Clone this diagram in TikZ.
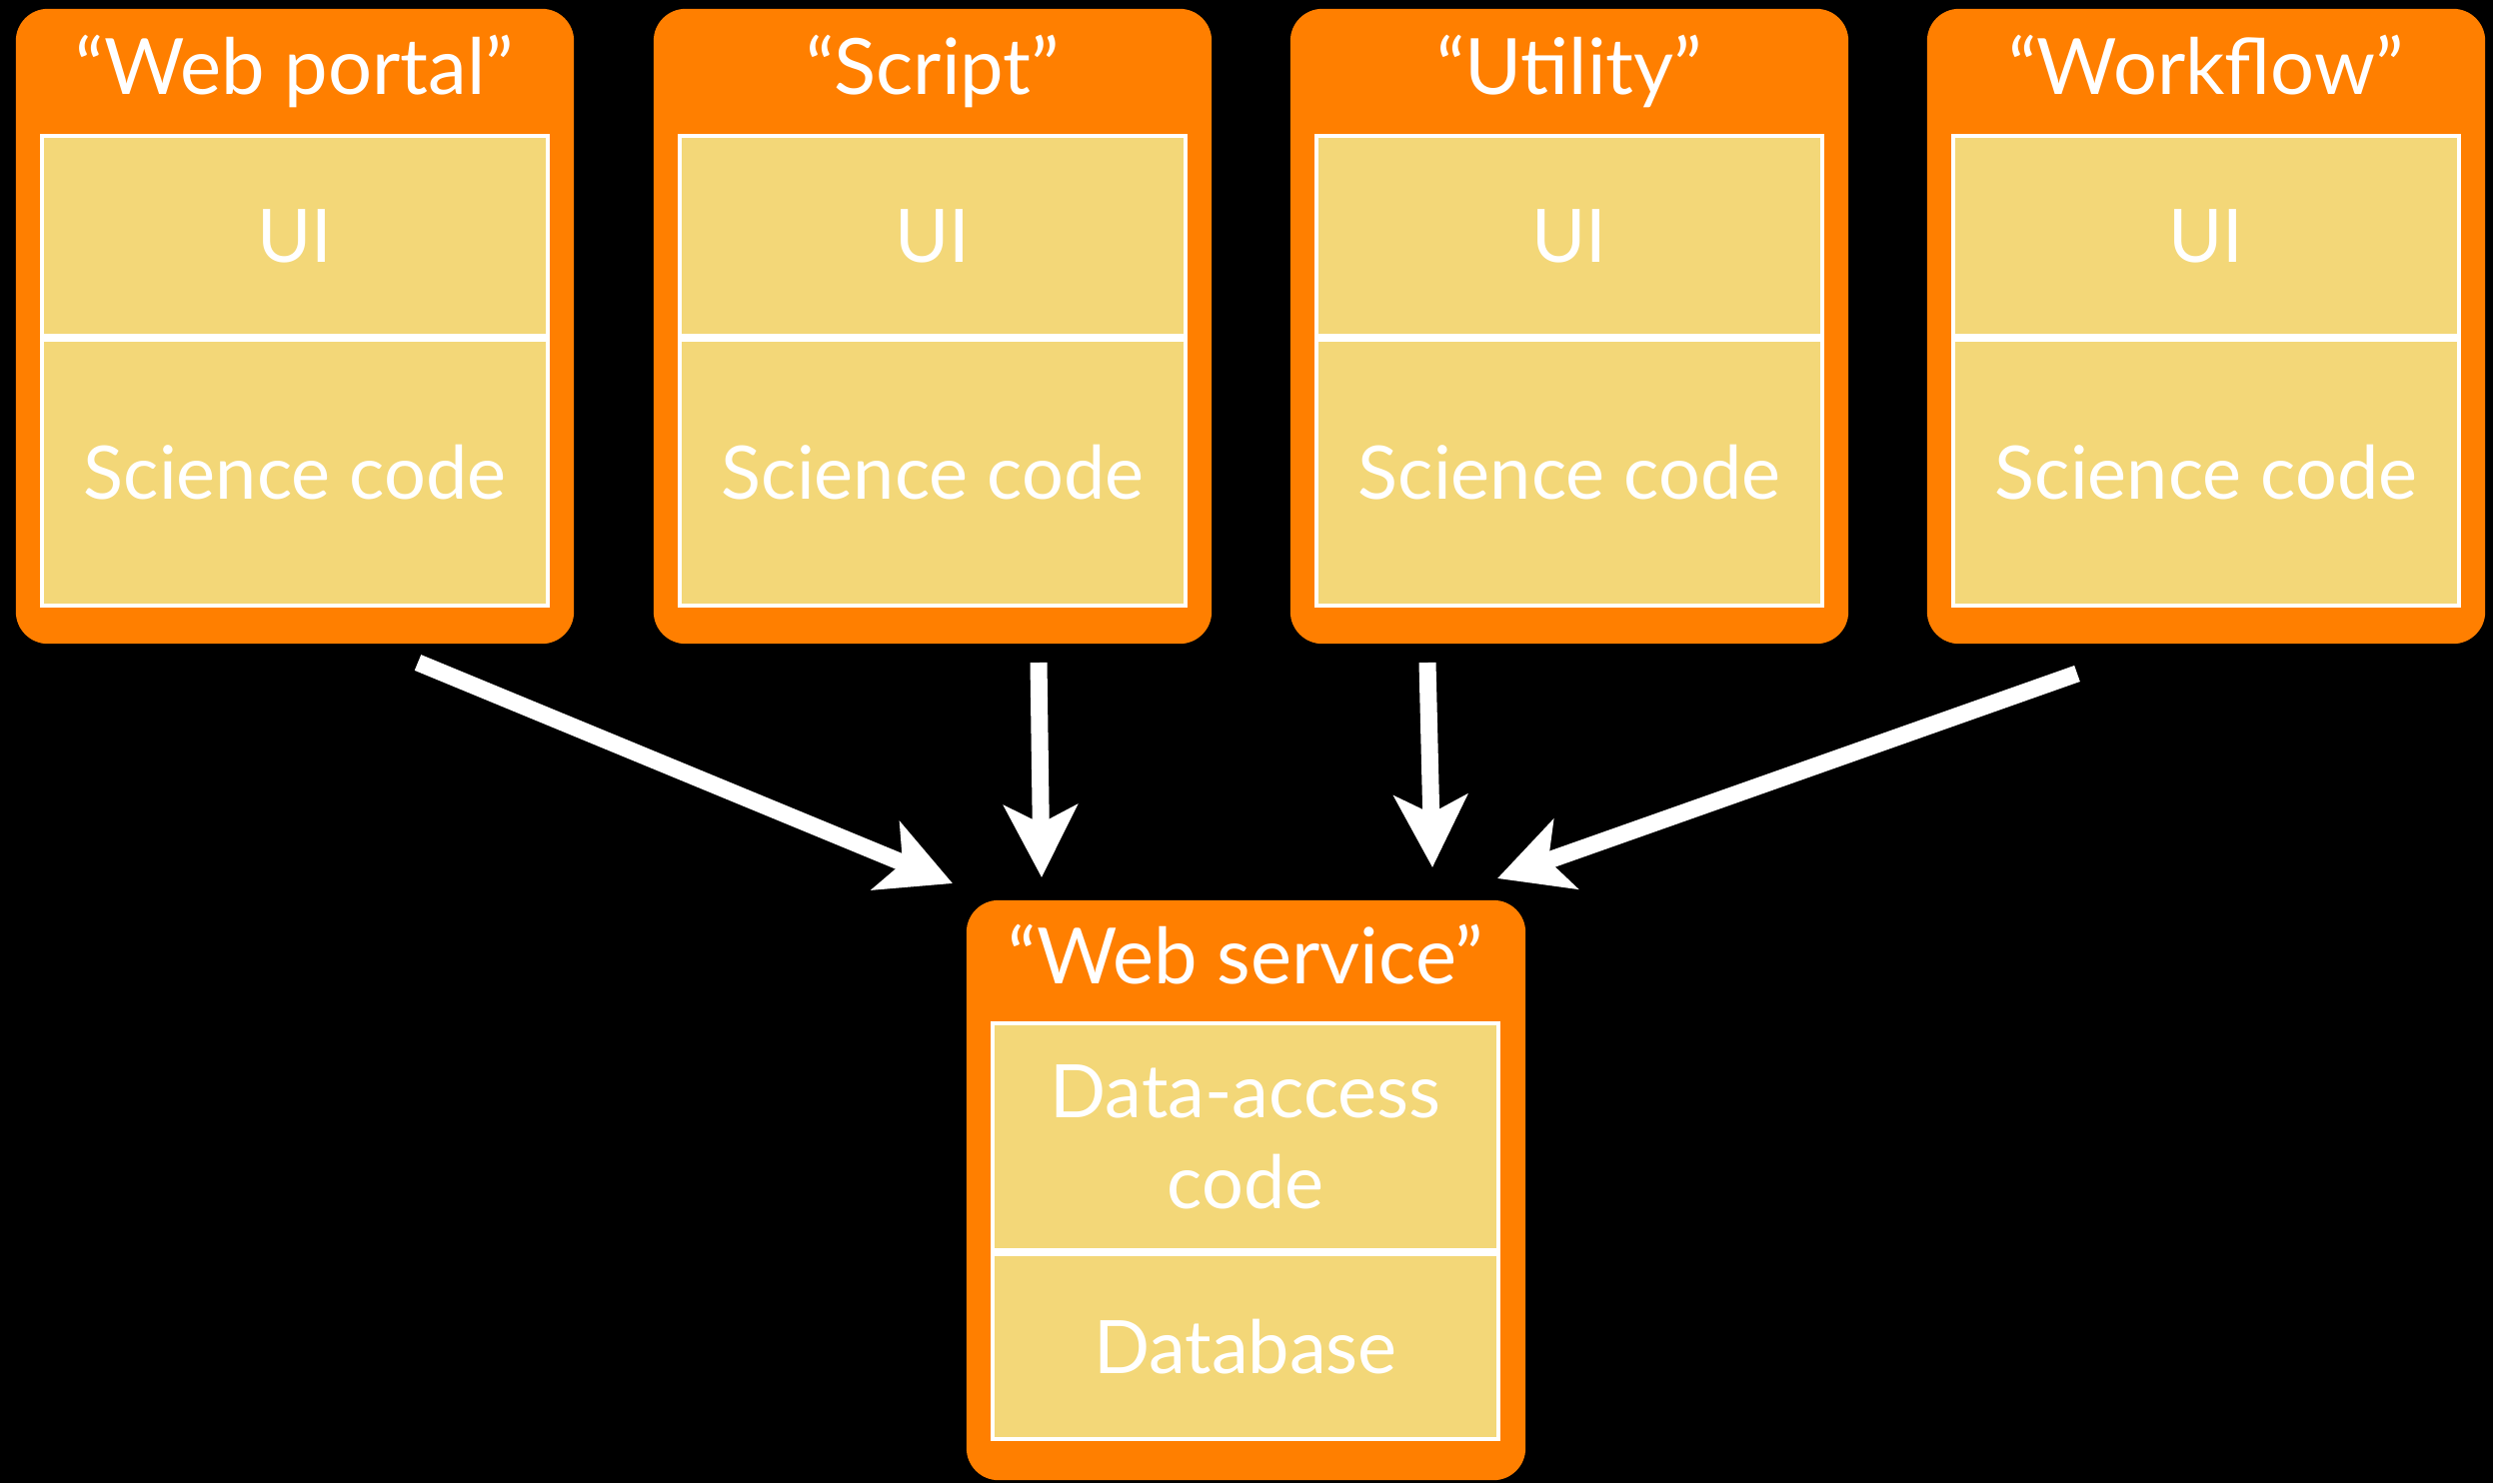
\documentclass[tikz,border=0pt]{standalone}
\usepackage{fontspec}
\setmainfont{Lato}
\usepackage{xcolor}
\usetikzlibrary{arrows.meta}

\definecolor{tierorange}{RGB}{255,127,0}
\definecolor{layeryellow}{RGB}{243,215,120}

\tikzset{
	tier/.style={fill=tierorange, rounded corners=0.32cm, minimum width=5.58cm, minimum height=6.35cm},
	tiername/.style={text=white, anchor=base, font=\fontsize{22.1}{26}\selectfont},
	layer/.style={fill=layeryellow, draw=white, line width=0.04cm, minimum width=5.06cm, text=white, align=center, font=\fontsize{21}{26}\selectfont},
	flow/.style={draw=white, line width=0.17cm, -{Stealth[length=0.72cm,width=0.73cm,inset=0.18cm]}}
}

\begin{document}
\begin{tikzpicture}[x=0.01cm, y=-0.01cm]

	\fill[black] (0,0) rectangle (2494,1484);

	\node[tier] (portal) at (295,326.5) {};
	\node[tiername] (portal-name) at (295,94) {“Web portal”};
	\node[layer, minimum height=2.00cm] (portal-ui) at (295,236) {UI};
	\node[layer, minimum height=2.66cm] (portal-sci) at (295,473) {Science code};

	\node[tier] (script) at (933,326.5) {};
	\node[tiername] (script-name) at (933,94) {“Script”};
	\node[layer, minimum height=2.00cm] (script-ui) at (933,236) {UI};
	\node[layer, minimum height=2.66cm] (script-sci) at (933,473) {Science code};

	\node[tier] (utility) at (1570,326.5) {};
	\node[tiername] (utility-name) at (1570,94) {“Utility”};
	\node[layer, minimum height=2.00cm] (utility-ui) at (1570,236) {UI};
	\node[layer, minimum height=2.66cm] (utility-sci) at (1570,473) {Science code};

	\node[tier] (workflow) at (2207,326.5) {};
	\node[tiername] (workflow-name) at (2207,94) {“Workflow”};
	\node[layer, minimum height=2.00cm] (workflow-ui) at (2207,236) {UI};
	\node[layer, minimum height=2.66cm] (workflow-sci) at (2207,473) {Science code};

	\node[tier, minimum width=5.59cm, minimum height=5.80cm] (service) at (1246.5,1191) {};
	\node[tiername] (service-name) at (1246.5,984) {“Web service”};
	\node[layer, minimum height=2.27cm] (service-dac) at (1246,1137.5) {Data-access\\code};
	\node[layer, minimum height=1.85cm] (service-db) at (1246,1347.5) {Database};

	\coordinate (portal-out) at (418,663);
	\coordinate (script-out) at (1039,663);
	\coordinate (utility-out) at (1428,663);
	\coordinate (workflow-out) at (2078,674);
	\coordinate (service-in1) at (953,884);
	\coordinate (service-in2) at (1042,878);
	\coordinate (service-in3) at (1433,868);
	\coordinate (service-in4) at (1498,879);

	\draw[flow] (portal-out) -- (service-in1);
	\draw[flow] (script-out) -- (service-in2);
	\draw[flow] (utility-out) -- (service-in3);
	\draw[flow] (workflow-out) -- (service-in4);
\end{tikzpicture}
\end{document}
